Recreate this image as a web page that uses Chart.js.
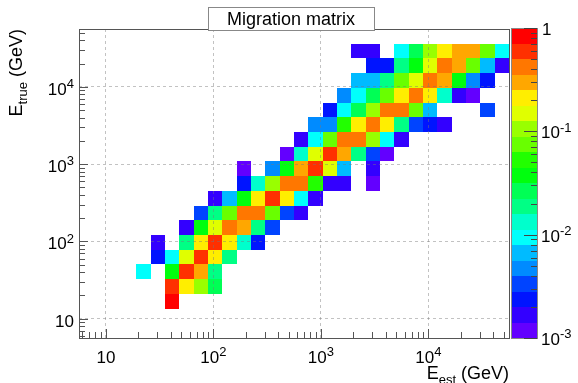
<!DOCTYPE html>
<html>
<head>
<meta charset="utf-8">
<script src="https://cdn.jsdelivr.net/npm/chart.js@4.4.0/dist/chart.umd.min.js"></script>
<style>html,body{margin:0;padding:0;background:#fff}</style>
</head>
<body>
<canvas id="c" width="578" height="383"></canvas>
<script>
// binning, log10(E/GeV)
const xLogMin = 0.75, xLogMax = 4.75, xBins = 30;
const yLogMin = 0.75, yLogMax = 4.75, yBins = 21;
const zLogMin = -3, zLogMax = 0, zLevels = 20;

const xTickDecades = [1, 2, 3, 4];
const yTickDecades = [1, 2, 3, 4];
const zTickDecades = [0, -1, -2, -3];

// migration matrix: E_true bin, first filled E_est bin, values (null = empty)
const rowBin   = [2, 3, 4, 5, 6, 7, 8, 9, 10, 11, 12, 13, 14, 15, 16, 17, 18, 19];
const rowStart = [6, 6, 4, 5, 5, 7, 8, 9, 11, 11, 14, 15, 16, 17, 18, 19, 20, 19];
const rowValues = [
  [0.84],
  [0.60, 0.21, 0.106, 0.027],
  [0.0094, null, 0.038, 0.60, 0.30, 0.019],
  [0.0024, 0.0094, 0.15, 0.60, 0.21, 0.019],
  [0.0017, null, 0.019, 0.21, 0.60, 0.21, 0.013, 0.0024],
  [0.0017, 0.038, 0.15, 0.42, 0.30, 0.019, 0.0034],
  [0.0034, 0.019, 0.075, 0.42, 0.42, 0.075, 0.0034, 0.0017],
  [0.0017, 0.0067, 0.038, 0.21, 0.60, 0.21, 0.0094, 0.0017],
  [0.0024, 0.013, 0.106, 0.42, 0.42, 0.053, 0.0017, 0.0017, null, 0.0012],
  [0.0012, null, 0.0047, 0.038, 0.30, 0.60, 0.15, 0.0067, null, 0.0017],
  [0.0012, 0.013, 0.15, 0.60, 0.30, 0.019, 0.0034, 0.0012],
  [0.0017, 0.0094, 0.075, 0.42, 0.42, 0.106, 0.0094, 0.0017],
  [0.0047, 0.0047, 0.053, 0.21, 0.42, 0.21, 0.019, 0.0034, 0.0024, 0.0017],
  [0.0024, 0.0094, 0.027, 0.106, 0.42, 0.42, 0.075, 0.0067, null, null, null, 0.0034],
  [0.0047, 0.0094, 0.027, 0.075, 0.21, 0.42, 0.21, 0.013, 0.0017, 0.0012],
  [0.0067, 0.0067, 0.019, 0.075, 0.15, 0.42, 0.30, 0.038, 0.0047, 0.0024],
  [0.0024, 0.0024, 0.019, 0.038, 0.15, 0.42, 0.30, 0.075, 0.0067, 0.0017],
  [0.0017, 0.0017, null, 0.0094, 0.027, 0.106, 0.21, 0.30, 0.30, 0.075, 0.0094]
];

const FONT = '"Liberation Sans", Arial, Helvetica, sans-serif';
const dxLog = (xLogMax - xLogMin) / xBins;
const dyLog = (yLogMax - yLogMin) / yBins;

// bin centres as scatter points
const cells = [];
rowBin.forEach((j, r) => {
  rowValues[r].forEach((v, k) => {
    if (v === null) return;
    const i = rowStart[r] + k;
    cells.push({
      x: Math.pow(10, xLogMin + (i + 0.5) * dxLog),
      y: Math.pow(10, yLogMin + (j + 0.5) * dyLog),
      v: v
    });
  });
});

// ROOT "pretty palette" (violet -> red), 20 contour levels
function levelColor(k) {
  const idx = Math.floor((k + 0.99) * 50 / zLevels);
  const hue = idx >= 49 ? 0 : 280 - (idx + 1) * 5.6;
  return 'hsl(' + hue + ',100%,50%)';
}
function zColor(v) {
  let k = Math.floor((Math.log10(v) - zLogMin) / (zLogMax - zLogMin) * zLevels);
  k = Math.max(0, Math.min(zLevels - 1, k));
  return levelColor(k);
}

// "10" with superscript
function drawPow(ctx, exp, x, y, align, size) {
  ctx.font = size + 'px ' + FONT;
  const wb = ctx.measureText('10').width;
  let we = 0;
  const es = Math.round(size * 0.78);
  if (exp !== null) {
    ctx.font = es + 'px ' + FONT;
    we = ctx.measureText(exp).width;
  }
  const w = wb + we;
  let x0 = x;
  if (align === 'center') x0 = x - w / 2;
  else if (align === 'right') x0 = x - w;
  ctx.textAlign = 'left';
  ctx.textBaseline = 'alphabetic';
  ctx.font = size + 'px ' + FONT;
  ctx.fillText('10', x0, y);
  if (exp !== null) {
    ctx.font = es + 'px ' + FONT;
    ctx.fillText(exp, x0 + wb, y - size * 0.4);
  }
}

// text with subscript, e.g. E_est (right-aligned at x)
function subText(ctx, parts, x, y, size) {
  let w = 0;
  parts.forEach(p => {
    ctx.font = (p.sub ? Math.round(size * 0.7) : size) + 'px ' + FONT;
    w += ctx.measureText(p.t).width;
  });
  let cx = x - w;
  parts.forEach(p => {
    ctx.font = (p.sub ? Math.round(size * 0.7) : size) + 'px ' + FONT;
    ctx.fillText(p.t, cx, p.sub ? y + size * 0.28 : y);
    cx += ctx.measureText(p.t).width;
  });
}

const th2 = {
  id: 'th2',
  beforeDraw(chart) {
    const {ctx, scales: {x, y}} = chart;
    ctx.save();
    chart.data.datasets[0].data.forEach(p => {
      const lx = Math.log10(p.x), ly = Math.log10(p.y);
      const x0 = Math.round(x.getPixelForValue(Math.pow(10, lx - dxLog / 2)));
      const x1 = Math.round(x.getPixelForValue(Math.pow(10, lx + dxLog / 2)));
      const y0 = Math.round(y.getPixelForValue(Math.pow(10, ly - dyLog / 2)));
      const y1 = Math.round(y.getPixelForValue(Math.pow(10, ly + dyLog / 2)));
      ctx.fillStyle = zColor(p.v);
      ctx.fillRect(x0, y1, x1 - x0, y0 - y1);
    });
    ctx.restore();
  },
  afterDraw(chart) {
    const {ctx, chartArea: a, scales: {x, y}} = chart;
    ctx.save();
    ctx.strokeStyle = '#555';
    ctx.lineWidth = 1;
    ctx.strokeRect(a.left + 0.5, a.top + 0.5, a.right - a.left, a.bottom - a.top);

    // ticks, pointing inward
    ctx.beginPath();
    for (let d = 0; d <= 4; d++) {
      for (let m = 1; m <= 9; m++) {
        const v = m * Math.pow(10, d);
        const len = m === 1 ? 9 : 6;
        if (v >= x.min && v <= x.max) {
          const px = Math.round(x.getPixelForValue(v)) + 0.5;
          ctx.moveTo(px, a.bottom);
          ctx.lineTo(px, a.bottom - len);
        }
        if (v >= y.min && v <= y.max) {
          const py = Math.round(y.getPixelForValue(v)) + 0.5;
          ctx.moveTo(a.left, py);
          ctx.lineTo(a.left + len, py);
        }
      }
    }
    ctx.stroke();

    // tick labels
    ctx.fillStyle = '#000';
    xTickDecades.forEach(d => {
      drawPow(ctx, d === 1 ? null : String(d), x.getPixelForValue(Math.pow(10, d)), a.bottom + 25, 'center', 17);
    });
    yTickDecades.forEach(d => {
      drawPow(ctx, d === 1 ? null : String(d), a.left - 5, y.getPixelForValue(Math.pow(10, d)) + 8, 'right', 17);
    });

    // colour bar
    const cbL = a.right + 2, cbR = a.right + 28;
    const cbT = a.top - 1, cbB = a.bottom;
    const zPix = lz => cbB - (lz - zLogMin) / (zLogMax - zLogMin) * (cbB - cbT);
    for (let k = 0; k < zLevels; k++) {
      const lz0 = zLogMin + k * (zLogMax - zLogMin) / zLevels;
      const lz1 = zLogMin + (k + 1) * (zLogMax - zLogMin) / zLevels;
      const p0 = Math.round(zPix(lz0)), p1 = Math.round(zPix(lz1));
      ctx.fillStyle = levelColor(k);
      ctx.fillRect(cbL, p1, cbR - cbL, p0 - p1);
    }
    ctx.strokeStyle = '#888';
    ctx.strokeRect(cbL + 0.5, cbT + 0.5, cbR - cbL, cbB - cbT);
    ctx.strokeStyle = '#444';
    ctx.beginPath();
    for (let d = -3; d <= 0; d++) {
      for (let m = 1; m <= 9; m++) {
        const lz = d + Math.log10(m);
        if (lz > zLogMax + 1e-9) continue;
        const py = Math.round(zPix(lz)) + 0.5;
        ctx.moveTo(cbR, py);
        ctx.lineTo(cbR - (m === 1 ? 13 : 6), py);
      }
    }
    ctx.stroke();
    ctx.fillStyle = '#000';
    zTickDecades.forEach(d => {
      const py = zPix(d) + 7;
      if (d === 0) {
        ctx.font = '17px ' + FONT;
        ctx.textAlign = 'left';
        ctx.fillText('1', cbR + 5, py);
      } else {
        drawPow(ctx, String(d), cbR + 4, py, 'left', 17);
      }
    });

    // title box
    ctx.fillStyle = '#fff';
    ctx.fillRect(208, 7, 166, 23);
    ctx.strokeStyle = '#888';
    ctx.strokeRect(208.5, 7.5, 166, 23);
    ctx.fillStyle = '#000';
    ctx.font = '18px ' + FONT;
    ctx.textAlign = 'center';
    ctx.textBaseline = 'alphabetic';
    ctx.fillText('Migration matrix', 291, 25);

    // axis titles
    ctx.textAlign = 'left';
    subText(ctx, [{t: 'E'}, {t: 'est', sub: true}, {t: ' (GeV)'}], a.right, a.bottom + 41, 18);
    ctx.translate(22, a.top);
    ctx.rotate(-Math.PI / 2);
    subText(ctx, [{t: 'E'}, {t: 'true', sub: true}, {t: ' (GeV)'}], 0, 0, 18);
    ctx.restore();
  }
};

const decadeTicks = scale => {
  scale.ticks = [1, 2, 3, 4].map(d => ({value: Math.pow(10, d), major: true}));
};

new Chart(document.getElementById('c'), {
  type: 'scatter',
  data: {
    datasets: [{
      label: 'Migration matrix',
      data: cells,
      pointRadius: 0,
      pointHoverRadius: 0
    }]
  },
  options: {
    responsive: false,
    animation: false,
    events: [],
    layout: { padding: { left: 79, right: 69, top: 29, bottom: 45 } },
    plugins: { legend: { display: false }, tooltip: { enabled: false } },
    scales: {
      x: {
        type: 'logarithmic',
        min: Math.pow(10, xLogMin),
        max: Math.pow(10, xLogMax),
        afterBuildTicks: decadeTicks,
        afterFit: s => { s.height = 0; },
        ticks: { display: false },
        grid: { color: 'rgba(120,120,120,0.45)', lineWidth: 1, drawTicks: false },
        border: { display: false, dash: [3, 3] }
      },
      y: {
        type: 'logarithmic',
        min: Math.pow(10, yLogMin),
        max: Math.pow(10, yLogMax),
        afterBuildTicks: decadeTicks,
        afterFit: s => { s.width = 0; },
        ticks: { display: false },
        grid: { color: 'rgba(120,120,120,0.45)', lineWidth: 1, drawTicks: false },
        border: { display: false, dash: [3, 3] }
      }
    }
  },
  plugins: [th2]
});
</script>
</body>
</html>
